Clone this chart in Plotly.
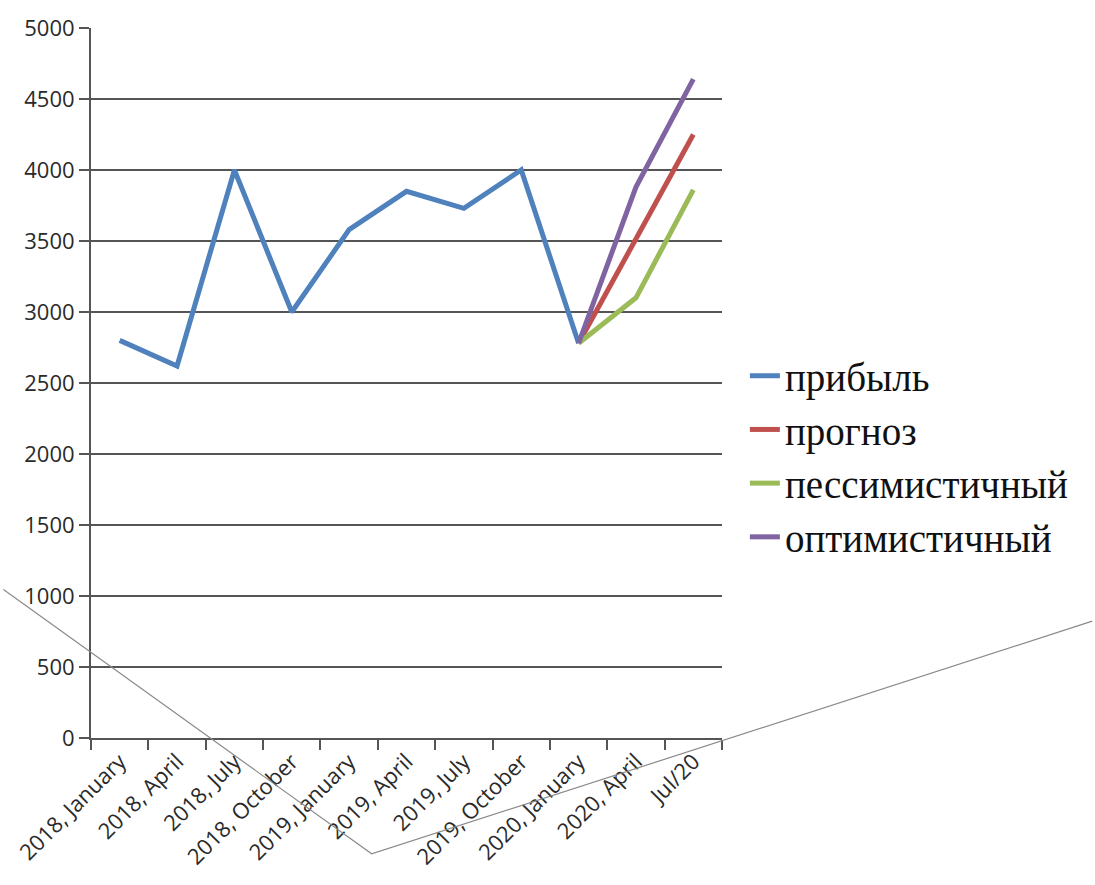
import plotly.graph_objects as go

# Quarterly categories
categories = ["2018, January", "2018, April", "2018, July", "2018, October",
              "2019, January", "2019, April", "2019, July", "2019, October",
              "2020, January", "2020, April", "Jul/20"]

# Actual profit (up to 2020, January)
profit = [2800, 2620, 4000, 3000, 3580, 3850, 3730, 4000, 2780, None, None]
# Scenarios starting from 2020, January
forecast = [None] * 8 + [2780, 3510, 4250]
pessimistic = [None] * 8 + [2780, 3100, 3860]
optimistic = [None] * 8 + [2780, 3880, 4640]

series_names = ["прибыль", "прогноз", "пессимистичный", "оптимистичный"]
series_values = [profit, forecast, pessimistic, optimistic]
series_colors = ["#4F81BD", "#C0504D", "#9BBB59", "#8064A2"]

y_ticks = list(range(0, 5001, 500))

fig = go.Figure()
for name, vals, col in zip(series_names, series_values, series_colors):
    fig.add_trace(go.Scatter(
        x=categories, y=vals, name=name, mode="lines",
        line=dict(color=col, width=5), connectgaps=False,
    ))

W, H = 1095, 885
L, R, T, B = 88, 722, 21, 738


def px(x, y):
    # pixel position -> paper coordinates
    return (x - L) / (R - L), (B - y) / (B - T)


# thin decorative guide line across the lower part
p0 = px(0, 588)
p1 = px(370, 855)
p2 = px(1094, 620)
fig.add_shape(type="path",
              path=f"M {p0[0]},{p0[1]} L {p1[0]},{p1[1]} L {p2[0]},{p2[1]}",
              xref="paper", yref="paper",
              line=dict(color="#8a8a8a", width=1.2), layer="above")

tick_font = dict(family="Open Sans", size=22, color="#2a2a2a")

fig.update_layout(
    width=W, height=H,
    margin=dict(l=L, r=W - R, t=T, b=H - B, pad=0),
    paper_bgcolor="white", plot_bgcolor="white",
    showlegend=True,
    legend=dict(
        x=(745 - L) / (R - L), xanchor="left",
        y=(B - 340) / (B - T), yanchor="top",
        font=dict(family="Liberation Serif", size=39, color="#111"),
        bgcolor="rgba(0,0,0,0)", itemwidth=30,
        tracegroupgap=0, borderwidth=0,
    ),
    xaxis=dict(
        type="category", range=[-0.5, 10.5],
        tickson="boundaries", ticks="outside", ticklen=10, tickwidth=2,
        tickcolor="#555", showline=True, linecolor="#555", linewidth=2,
        showgrid=False, tickangle=-45, tickfont=tick_font,
    ),
    yaxis=dict(
        range=[0, 5000], tickvals=y_ticks,
        ticks="outside", ticklen=10, tickwidth=2, tickcolor="#555",
        showline=True, linecolor="#555", linewidth=2,
        showgrid=True, gridcolor="#555555", gridwidth=2,
        zeroline=False, tickfont=tick_font,
    ),
)

fig.write_html("out.html")
